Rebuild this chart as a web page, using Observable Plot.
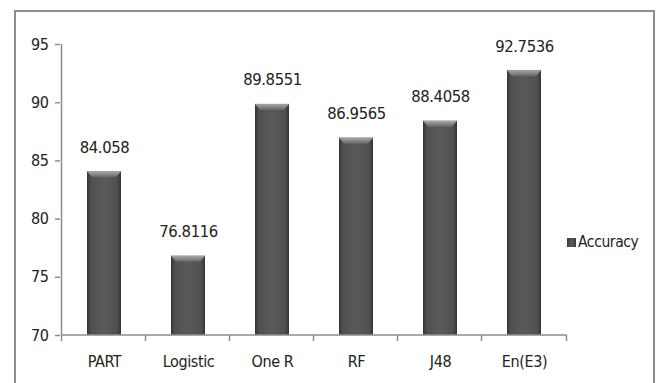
<!DOCTYPE html>
<html>
<head>
<meta charset="utf-8">
<script src="https://cdn.jsdelivr.net/npm/d3@7"></script>
<script src="https://cdn.jsdelivr.net/npm/@observablehq/plot@0.6"></script>
<style>
  html, body { margin: 0; padding: 0; background: #fff; overflow: hidden; }
  #wrap { position: relative; width: 657px; height: 383px;
          font-family: "Liberation Sans Narrow", "DejaVu Sans Condensed", "Liberation Sans", sans-serif; }
  #frame { position: absolute; left: 14px; top: 10px; width: 641px; height: 420px;
           border: 2px solid #8d8d8d; box-sizing: border-box; pointer-events: none; }
  #chart { position: absolute; left: 0; top: 0; }
  #legend { position: absolute; left: 567px; top: 233px; display: flex; align-items: center;
            font-size: 15.5px; letter-spacing: -0.4px; color: #222; }
  #legend .swatch { width: 9px; height: 9px; margin-right: 2px;
                    background: linear-gradient(90deg, #3a3a3a, #5a5a5a 50%, #3a3a3a); }
</style>
</head>
<body>
<div id="wrap">
  <div id="frame"></div>
  <div id="chart"></div>
  <div id="legend"><span class="swatch"></span><span id="legend-label"></span></div>
</div>
<script>
// Classification accuracy (%) per classifier
const classifiers = ["PART", "Logistic", "One R", "RF", "J48", "En(E3)"];
const accuracy = [84.058, 76.8116, 89.8551, 86.9565, 88.4058, 92.7536];
const yTicks = [70, 75, 80, 85, 90, 95];
const seriesName = "Accuracy";

const rows = classifiers.map((c, i) => ({classifier: c, accuracy: accuracy[i]}));
const yMin = yTicks[0];
const yMax = yTicks[yTicks.length - 1];
const padInner = 0.6;
const axisColor = "#8d8d8d";

function pick(args) {
  const scales = args.find(a => a && typeof a.x === "function" && typeof a.y === "function");
  const dims = args.find(a => a && typeof a === "object" && "marginLeft" in a);
  return {scales, dims};
}
function bandWidth(scales) {
  if (typeof scales.x.bandwidth === "function") return scales.x.bandwidth();
  return scales.scales.x.bandwidth;
}

// Lighter bevel on top of each bar
function bevels(...args) {
  const {scales} = pick(args);
  const bw = bandWidth(scales);
  const g = d3.create("svg:g");
  for (const r of rows) {
    const x0 = scales.x(r.classifier), x1 = x0 + bw, yt = scales.y(r.accuracy);
    g.append("polygon")
      .attr("points", `${x0},${yt} ${x1},${yt} ${x1 - 5},${yt + 6} ${x0 + 5},${yt + 6}`)
      .attr("fill", "url(#bevelShade)");
  }
  return g.node();
}

// Axis lines and the category boundary ticks
function axisLines(...args) {
  const {scales} = pick(args);
  const bw = bandWidth(scales);
  const step = bw / (1 - padInner);
  const g = d3.create("svg:g").attr("stroke", axisColor).attr("stroke-width", 1.5);
  const y0 = scales.y(yMin), y1 = scales.y(yMax);
  const xs = classifiers.map(c => scales.x(c) - (step - bw) / 2);
  xs.push(xs[xs.length - 1] + step);
  g.append("line").attr("x1", xs[0]).attr("x2", xs[0]).attr("y1", y1).attr("y2", y0);
  g.append("line").attr("x1", xs[0]).attr("x2", xs[xs.length - 1]).attr("y1", y0).attr("y2", y0);
  for (const x of xs) g.append("line").attr("x1", x).attr("x2", x).attr("y1", y0).attr("y2", y0 + 6);
  return g.node();
}

const chart = Plot.plot({
  width: 657,
  height: 383,
  marginLeft: 60,
  marginRight: 89,
  marginTop: 44,
  marginBottom: 48,
  style: {fontFamily: '"Liberation Sans Narrow", "DejaVu Sans Condensed", "Liberation Sans", sans-serif',
          fontSize: "16px", letterSpacing: "-0.4px", color: "#222", background: "transparent", overflow: "visible"},
  x: {domain: classifiers, paddingInner: padInner, paddingOuter: padInner / 2, label: null},
  y: {domain: [yMin, yMax], label: null},
  marks: [
    Plot.barY(rows, {x: "classifier", y1: yMin, y2: "accuracy", fill: "url(#barShade)"}),
    bevels,
    axisLines,
    Plot.axisY({ticks: yTicks, tickSize: 5, tickPadding: 7, stroke: axisColor, strokeWidth: 1.5, fill: "#222", label: null}),
    Plot.axisX({tickSize: 0, tickPadding: 20, fill: "#222", label: null}),
    Plot.text(rows, {x: "classifier", y: "accuracy", text: d => String(d.accuracy),
                     lineAnchor: "bottom", dy: -19, fontSize: 16.5, fill: "#222"})
  ]
});

// Gradients for the bar body and bevel
const defs = d3.select(chart).insert("defs", ":first-child");
const body = defs.append("linearGradient").attr("id", "barShade")
  .attr("x1", "0").attr("x2", "1").attr("y1", "0").attr("y2", "0");
[["0%", "#353535"], ["12%", "#505050"], ["50%", "#5a5a5a"], ["88%", "#505050"], ["100%", "#353535"]]
  .forEach(([o, c]) => body.append("stop").attr("offset", o).attr("stop-color", c));
const bev = defs.append("linearGradient").attr("id", "bevelShade")
  .attr("x1", "0").attr("x2", "0").attr("y1", "0").attr("y2", "1");
[["0%", "#a8a8a8"], ["100%", "#666"]]
  .forEach(([o, c]) => bev.append("stop").attr("offset", o).attr("stop-color", c));

document.getElementById("chart").appendChild(chart);
document.getElementById("legend-label").textContent = seriesName;
</script>
</body>
</html>
